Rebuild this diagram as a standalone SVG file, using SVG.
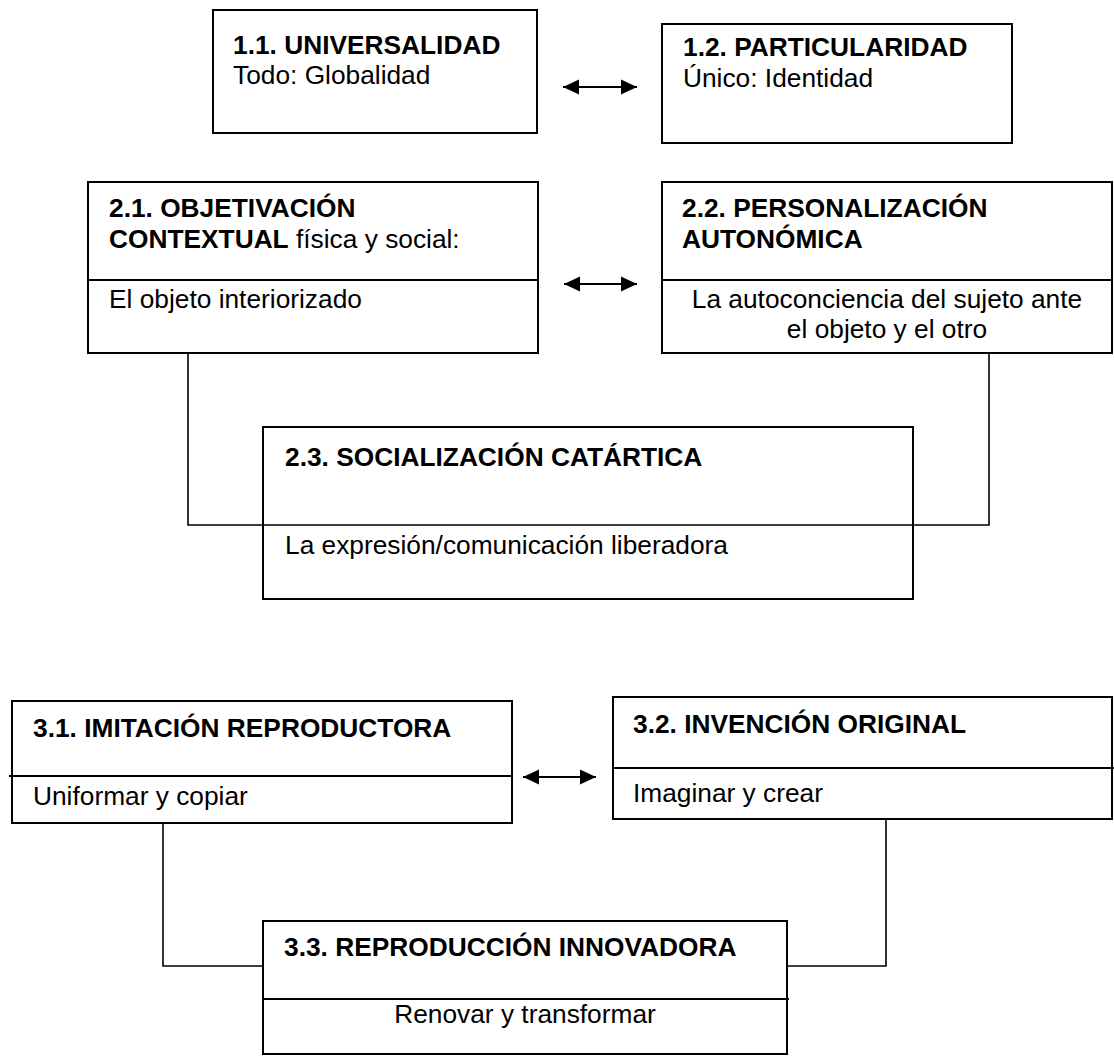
<svg xmlns="http://www.w3.org/2000/svg" width="1114" height="1057" viewBox="0 0 1114 1057">
<style>
.box{fill:#fff;stroke:#000;stroke-width:2}
.div{stroke:#000;stroke-width:2;fill:none}
.t{font-family:"Liberation Sans",Arial,sans-serif;font-size:26.3px;fill:#000}
.b{font-weight:bold}
.c{text-anchor:middle}
.con{fill:none;stroke:#000;stroke-width:1.6}
.arr{stroke:#000;stroke-width:2;marker-start:url(#ah);marker-end:url(#ah)}
</style>
<defs>
<marker id="ah" viewBox="0 0 16 16" refX="16" refY="8" markerWidth="16" markerHeight="16" markerUnits="userSpaceOnUse" orient="auto-start-reverse">
<path d="M0,0.5 L16,8 L0,15.5 Z" fill="#000"/>
</marker>
</defs>
<rect width="1114" height="1057" fill="#fff"/>
<g id="connectors">
<path class="con" d="M188,353 V525 H989 V353"/>
<path class="con" d="M163,823 V966 H263"/>
<path class="con" d="M886,819 V966 H787"/>
</g>
<g id="n11">
<rect class="box" x="213" y="10" width="324" height="123"/>
<text class="t b" x="233" y="54">1.1. UNIVERSALIDAD</text>
<text class="t" x="233" y="84">Todo: Globalidad</text>
</g>
<g id="n12">
<rect class="box" x="662" y="24" width="350" height="119"/>
<text class="t b" x="683" y="56">1.2. PARTICULARIDAD</text>
<text class="t" x="683" y="87">Único: Identidad</text>
</g>
<g id="n21">
<rect class="box" x="88" y="182" width="450" height="171"/>
<line class="div" x1="88" y1="280" x2="538" y2="280"/>
<text class="t b" x="109" y="217">2.1. OBJETIVACIÓN</text>
<text class="t" x="109" y="248"><tspan class="b">CONTEXTUAL</tspan> física y social:</text>
<text class="t" x="109" y="308">El objeto interiorizado</text>
</g>
<g id="n22">
<rect class="box" x="662" y="182" width="450" height="171"/>
<line class="div" x1="662" y1="280" x2="1112" y2="280"/>
<text class="t b" x="682" y="217">2.2. PERSONALIZACIÓN</text>
<text class="t b" x="682" y="248">AUTONÓMICA</text>
<text class="t c" x="887" y="308">La autoconciencia del sujeto ante</text>
<text class="t c" x="887" y="338">el objeto y el otro</text>
</g>
<g id="n23">
<rect class="box" x="263" y="427" width="650" height="172" style="fill:none"/>
<text class="t b" x="285" y="466">2.3. SOCIALIZACIÓN CATÁRTICA</text>
<text class="t" x="285" y="554">La expresión/comunicación liberadora</text>
</g>
<g id="n31">
<rect class="box" x="12" y="701" width="500" height="122"/>
<line class="div" x1="9" y1="776" x2="512" y2="776"/>
<text class="t b" x="33" y="737">3.1. IMITACIÓN REPRODUCTORA</text>
<text class="t" x="33" y="805">Uniformar y copiar</text>
</g>
<g id="n32">
<rect class="box" x="613" y="697" width="499" height="122"/>
<line class="div" x1="613" y1="768" x2="1114" y2="768"/>
<text class="t b" x="633" y="733">3.2. INVENCIÓN ORIGINAL</text>
<text class="t" x="633" y="802">Imaginar y crear</text>
</g>
<g id="n33">
<rect class="box" x="263" y="921" width="524" height="133"/>
<line class="div" x1="263" y1="999" x2="789" y2="999"/>
<text class="t b" x="284" y="956">3.3. REPRODUCCIÓN INNOVADORA</text>
<text class="t c" x="525" y="1023">Renovar y transformar</text>
</g>
<g id="arrows">
<line class="arr" x1="563" y1="87" x2="637" y2="87"/>
<line class="arr" x1="564" y1="284" x2="637" y2="284"/>
<line class="arr" x1="523" y1="777" x2="596" y2="777"/>
</g>
</svg>
